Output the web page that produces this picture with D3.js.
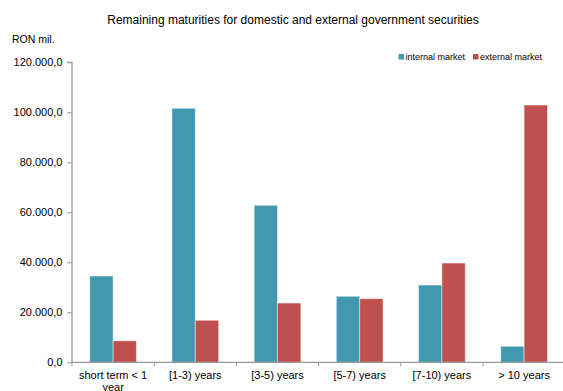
<!DOCTYPE html>
<html><head><meta charset="utf-8">
<script src="https://cdn.jsdelivr.net/npm/d3@7"></script>
<style>body{margin:0;background:#fff;}svg{display:block;font-family:"Liberation Sans",Arial,sans-serif;}</style>
</head><body><svg id="c" width="563" height="391"></svg>
<script>
const categories = ["short term < 1 year","[1-3) years","[3-5) years","[5-7) years","[7-10) years","> 10 years"];
const internalMarket = [34500, 101600, 62800, 26400, 30900, 6400];
const externalMarket = [8600, 16800, 23700, 25450, 39700, 102900];
const seriesNames = ["internal market","external market"];
const yTicks = [0,20000,40000,60000,80000,100000,120000];
const colors = ["#4198AF","#C0504D"];

const svg = d3.select("#c");
const m = {left:72, right:563, top:62.3, bottom:362.3};
const x = d3.scaleBand().domain(categories).range([m.left, m.left + 82.2*6]).paddingInner(0).paddingOuter(0);
const x1 = d3.scaleBand().domain(seriesNames).range([0, x.bandwidth()]).paddingOuter(0.76).paddingInner(0);
const y = d3.scaleLinear().domain([0,120000]).range([m.bottom, m.top]);
const fmt = v => d3.format(",.1f")(v).replace(/,/g,"#").replace(".",",").replace(/#/g,".");

svg.append("text").attr("x",293).attr("y",24).attr("text-anchor","middle").attr("font-size",12).attr("fill","#000")
  .text("Remaining maturities for domestic and external government securities");
svg.append("text").attr("x",12).attr("y",43).attr("font-size",10.5).attr("fill","#000").text("RON mil.");

// bars
const data = categories.map((c,i)=>({c, vals:[internalMarket[i], externalMarket[i]]}));
const g = svg.append("g");
data.forEach(d=>{
  d.vals.forEach((v,j)=>{
    g.append("rect").attr("x", x(d.c)+x1(seriesNames[j])).attr("y", y(v))
      .attr("width", x1.bandwidth()).attr("height", y(0)-y(v))
      .attr("fill", colors[j]).attr("stroke","rgba(255,255,255,0.45)").attr("stroke-width",1);
  });
});

// y axis
const ya = svg.append("g").attr("transform",`translate(${m.left},0)`)
  .call(d3.axisLeft(y).tickValues(yTicks).tickFormat(fmt).tickSize(5).tickPadding(4.5));
ya.select(".domain").attr("stroke","#999").attr("stroke-width",1.3).attr("d",`M-5,${m.top}H0V${m.bottom}`);
ya.selectAll(".tick line").attr("stroke","#999");
ya.selectAll("text").attr("font-size",11).attr("fill","#000").attr("font-family","Liberation Sans, Arial, sans-serif");

// x axis
const xa = svg.append("g").attr("transform",`translate(0,${m.bottom})`);
xa.append("line").attr("x1",m.left).attr("x2",563).attr("stroke","#999").attr("stroke-width",1.3);
d3.range(7).forEach(i=>{
  const xx = m.left + i*x.bandwidth();
  xa.append("line").attr("x1",xx).attr("x2",xx).attr("y1",0).attr("y2",4).attr("stroke","#999");
});
categories.forEach(c=>{
  const t = xa.append("text").attr("x", x(c)+x.bandwidth()/2).attr("y",17).attr("text-anchor","middle")
    .attr("font-size",11).attr("fill","#000");
  if (c === "short term < 1 year") {
    t.append("tspan").attr("x", x(c)+x.bandwidth()/2).attr("dy",0).text("short term < 1");
    t.append("tspan").attr("x", x(c)+x.bandwidth()/2).attr("dy",12).text("year");
  } else t.text(c);
});

// legend
const lg = svg.append("g");
const lx = [398.5, 473];
seriesNames.forEach((s,i)=>{
  lg.append("rect").attr("x",lx[i]).attr("y",54).attr("width",5.5).attr("height",5.5).attr("fill",colors[i]);
  lg.append("text").attr("x",lx[i]+7).attr("y",59.5).attr("font-size",9).attr("fill","#000").text(s);
});
</script></body></html>
